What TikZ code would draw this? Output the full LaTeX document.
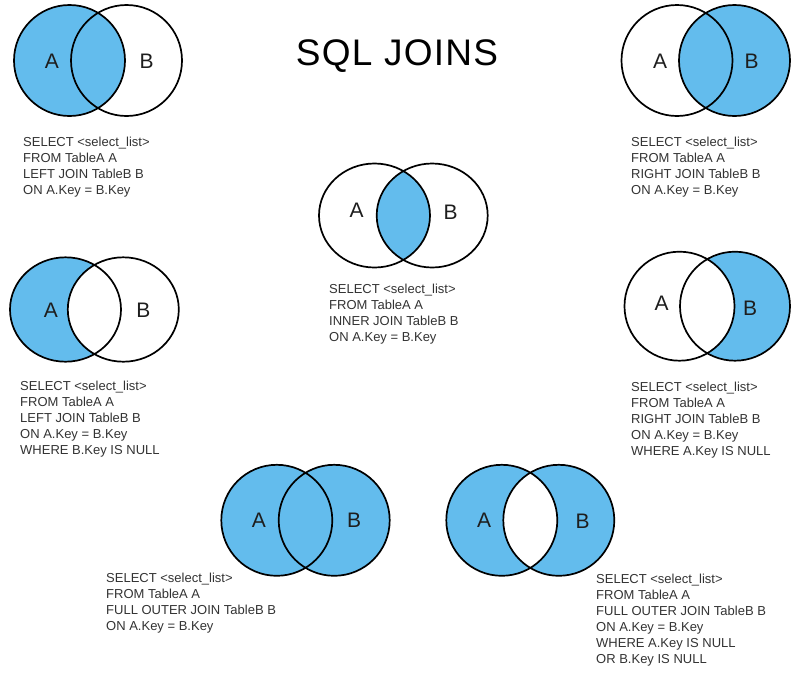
\documentclass[tikz,border=0pt]{standalone}
\usepackage{fontspec}
\setmainfont{Liberation Sans}
\definecolor{vblue}{RGB}{99,188,237}
\definecolor{txtgray}{RGB}{51,51,51}
\definecolor{lblgray}{RGB}{30,30,30}
\tikzset{
  vennline/.style={line width=1.7pt, draw=black},
  vennfill/.style={fill=vblue},
  sqltext/.style={anchor=north west, inner sep=0pt, align=left, font=\fontsize{13}{16}\selectfont, text=txtgray},
  setlabel/.style={font=\fontsize{21}{21}\selectfont, text=lblgray, inner sep=0pt},
  titletext/.style={font=\fontsize{37}{37}\selectfont\addfontfeature{LetterSpace=3.5}, text=black, inner sep=0pt}
}
\begin{document}
\begin{tikzpicture}[x=1pt,y=-1pt]
\useasboundingbox[fill=white] (0,0) rectangle (801,689);

% title
\node[titletext] (title) at (397,56) {SQL JOINS};

% ---- D1: LEFT JOIN (fill A)
\fill[vennfill] (69.5,60.5) circle[radius=55.5];
\draw[vennline] (69.5,60.5) circle[radius=55.5];
\draw[vennline] (126.5,60.5) circle[radius=55.5];
\node[setlabel] (a1) at (52,61.7) {A};
\node[setlabel] (b1) at (146.7,61.7) {B};
\node[sqltext] (t1) at (23,137) {SELECT <select\_list>\\FROM TableA A\\LEFT JOIN TableB B\\ON A.Key = B.Key};

% ---- D2: RIGHT JOIN (fill B)
\fill[vennfill] (734.5,60.5) circle[radius=55.5];
\draw[vennline] (677,60.5) circle[radius=55.5];
\draw[vennline] (734.5,60.5) circle[radius=55.5];
\node[setlabel] (a2) at (660,61.7) {A};
\node[setlabel] (b2) at (751.7,61.7) {B};
\node[sqltext] (t2) at (631,137) {SELECT <select\_list>\\FROM TableA A\\RIGHT JOIN TableB B\\ON A.Key = B.Key};

% ---- D3: INNER JOIN (fill A and B)
\begin{scope}
  \clip (374.5,215.5) ellipse[x radius=55.5, y radius=52];
  \fill[vennfill] (432.2,215.5) ellipse[x radius=55.5, y radius=52];
\end{scope}
\draw[vennline] (374.5,215.5) ellipse[x radius=55.5, y radius=52];
\draw[vennline] (432.2,215.5) ellipse[x radius=55.5, y radius=52];
\node[setlabel] (a3) at (356.7,210.5) {A};
\node[setlabel] (b3) at (450.7,212) {B};
\node[sqltext] (t3) at (329,283.6) {SELECT <select\_list>\\FROM TableA A\\INNER JOIN TableB B\\ON A.Key = B.Key};

% ---- D4: LEFT JOIN excl (A minus B)
\fill[vennfill] (65.5,309.5) ellipse[x radius=55.5, y radius=52.2];
\fill[white] (123.3,309.5) ellipse[x radius=55.5, y radius=52.2];
\draw[vennline] (65.5,309.5) ellipse[x radius=55.5, y radius=52.2];
\draw[vennline] (123.3,309.5) ellipse[x radius=55.5, y radius=52.2];
\node[setlabel] (a4) at (51,310) {A};
\node[setlabel] (b4) at (143.3,310) {B};
\node[sqltext] (t4) at (20,381) {SELECT <select\_list>\\FROM TableA A\\LEFT JOIN TableB B\\ON A.Key = B.Key\\WHERE B.Key IS NULL};

% ---- D5: RIGHT JOIN excl (B minus A)
\fill[vennfill] (735,306.2) ellipse[x radius=55, y radius=54.5];
\fill[white] (679.5,306.2) ellipse[x radius=55, y radius=54.5];
\draw[vennline] (679.5,306.2) ellipse[x radius=55, y radius=54.5];
\draw[vennline] (735,306.2) ellipse[x radius=55, y radius=54.5];
\node[setlabel] (a5) at (661.7,303.3) {A};
\node[setlabel] (b5) at (750,308.3) {B};
\node[sqltext] (t5) at (631,382) {SELECT <select\_list>\\FROM TableA A\\RIGHT JOIN TableB B\\ON A.Key = B.Key\\WHERE A.Key IS NULL};

% ---- D6: FULL OUTER JOIN (fill both)
\fill[vennfill] (276.8,520.3) circle[radius=55.5];
\fill[vennfill] (334.2,520.3) circle[radius=55.5];
\draw[vennline] (276.8,520.3) circle[radius=55.5];
\draw[vennline] (334.2,520.3) circle[radius=55.5];
\node[setlabel] (a6) at (259,520) {A};
\node[setlabel] (b6) at (354,520) {B};
\node[sqltext] (t6) at (106,573) {SELECT <select\_list>\\FROM TableA A\\FULL OUTER JOIN TableB B\\ON A.Key = B.Key};

% ---- D7: FULL OUTER JOIN excl (symmetric difference)
\fill[vennfill] (501.8,520.3) circle[radius=55.5];
\fill[vennfill] (558.8,520.3) circle[radius=55.5];
\begin{scope}
  \clip (501.8,520.3) circle[radius=55.5];
  \fill[white] (558.8,520.3) circle[radius=55.5];
\end{scope}
\draw[vennline] (501.8,520.3) circle[radius=55.5];
\draw[vennline] (558.8,520.3) circle[radius=55.5];
\node[setlabel] (a7) at (484,520) {A};
\node[setlabel] (b7) at (582.7,521.7) {B};
\node[sqltext] (t7) at (596,573.6) {SELECT <select\_list>\\FROM TableA A\\FULL OUTER JOIN TableB B\\ON A.Key = B.Key\\WHERE A.Key IS NULL\\OR B.Key IS NULL};
\end{tikzpicture}
\end{document}
